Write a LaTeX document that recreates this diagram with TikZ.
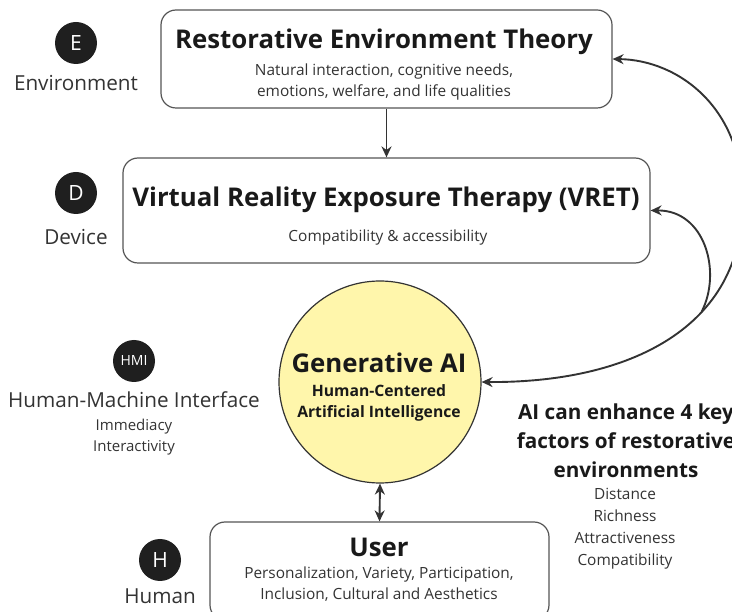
\documentclass[tikz,border=0pt]{standalone}
\usepackage{fontspec}
\setmainfont{Open Sans}
\usetikzlibrary{positioning}
\usetikzlibrary{arrows.meta}
\usetikzlibrary{calc}
\definecolor{inkgray}{HTML}{333333}
\definecolor{linegray}{HTML}{555555}
\definecolor{aiyellow}{HTML}{FFF6AB}
\tikzstyle{badge}=[circle,fill=black!88,draw=none,text=white,minimum size=42pt,inner sep=0pt,font=\fontsize{21}{24}\selectfont]
\tikzstyle{box}=[rectangle,rounded corners=15pt,draw=linegray,line width=1.2pt]
\tikzstyle{edge} = [draw,line width=1.9pt,color=inkgray,-{Stealth[length=11pt,width=10pt]}]
\tikzstyle{biedge} = [draw,line width=1.9pt,color=inkgray,{Stealth[length=11pt,width=10pt]}-{Stealth[length=11pt,width=10pt]}]
\tikzstyle{title} = [font=\bfseries\fontsize{25.8}{30}\selectfont,text=black!90]
\tikzstyle{sub} = [font=\fontsize{15.4}{21}\selectfont,text=inkgray,align=center]
\tikzstyle{side} = [font=\fontsize{20.7}{24}\selectfont,text=inkgray]

\begin{document}
\begin{tikzpicture}[x=1pt,y=-1pt]
    \useasboundingbox (0,0) rectangle (732,612);
    \clip (0,0) rectangle (732,612);

    % the three boxes and the AI circle
    \node[box,minimum width=451pt,minimum height=98pt] (ret) at (386.5,59) {};
    \node[box,minimum width=527pt,minimum height=105pt] (vret) at (386.5,210.5) {};
    \node[circle,draw=inkgray,fill=aiyellow,line width=1.2pt,minimum size=202pt] (ai) at (380,382) {};
    \node[box,minimum width=339pt,minimum height=98pt] (user) at (379.5,571) {};

    % texts inside
    \node[title] (rettitle) at (384,42) {Restorative Environment Theory};
    \node[sub] (retsub) at (384,82) {Natural interaction, cognitive needs,\\emotions, welfare, and life qualities};
    \node[title] (vrettitle) at (386,200) {Virtual Reality Exposure Therapy (VRET)};
    \node[sub] (vretsub) at (388,238) {Compatibility \& accessibility};
    \node[title] (aititle) at (379,363) {Generative AI};
    \node[sub,font=\bfseries\fontsize{15.7}{21}\selectfont,text=black!90] (aisub) at (379,403) {Human-Centered\\Artificial Intelligence};
    \node[title] (usertitle) at (379,547) {User};
    \node[sub] (usersub) at (379,584) {Personalization, Variety, Participation,\\Inclusion, Cultural and Aesthetics};

    % letters on the left
    \foreach \pos/\name/\label in {{(76,43)/badgeE/E}, {(76,193)/badgeD/D}, {(160,560)/badgeH/H}}
        \node[badge] (\name) at \pos {\label};
    \node[badge,font=\fontsize{14}{16}\selectfont] (badgeHMI) at (134,361) {HMI};

    \foreach \pos/\name/\label in {{(76,83)/envlabel/Environment}, {(76,237)/devlabel/Device}, {(134,400)/hmilabel/Human-Machine Interface}, {(160,596)/humlabel/Human}}
        \node[side] (\name) at \pos {\label};
    \node[sub,font=\fontsize{15}{21}\selectfont] (hmisub) at (134,437) {Immediacy\\Interactivity};

    % right hand note
    \node[title,font=\bfseries\fontsize{20.7}{29}\selectfont,align=center] (note) at (626,441) {AI can enhance 4 key\\factors of restorative\\environments};
    \node[sub,font=\fontsize{15.4}{22}\selectfont] (factors) at (625,529) {Distance\\Richness\\Attractiveness\\Compatibility};

    % Connect the nodes
    \path[edge] (ret.south) -- (vret.north);
    \path[biedge] (ai.south) -- (user.north);
    \path[biedge] (ai.east) .. controls (640,383) and (745,320) .. coordinate[pos=0.62] (merge) (742,200) .. controls (744,110) and (680,60) .. (ret.east);
    \path[edge] (merge) .. controls (722,272) and (705,210) .. (vret.east);
\end{tikzpicture}
\end{document}
